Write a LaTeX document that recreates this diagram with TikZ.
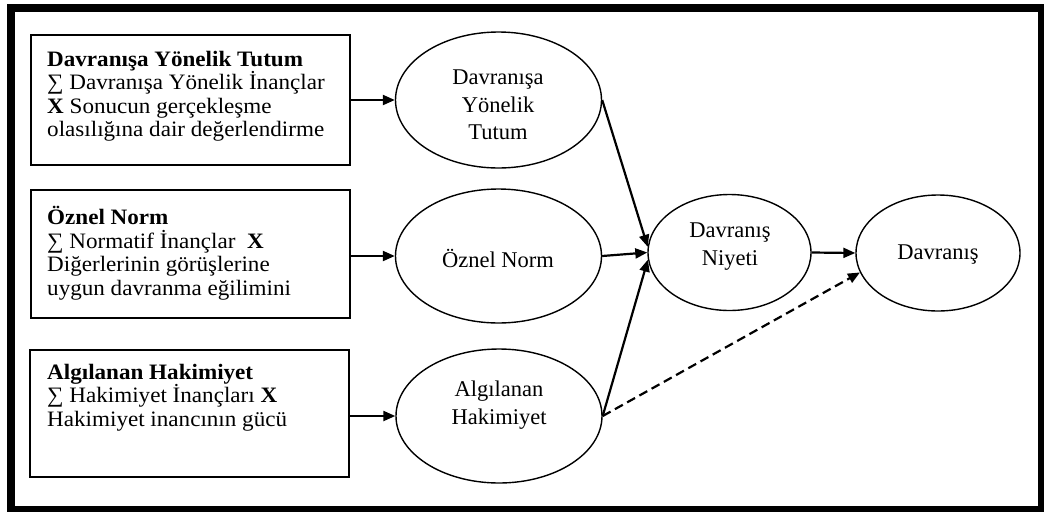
\documentclass[tikz,border=0pt]{standalone}
\usepackage{fontspec}
\setmainfont{Liberation Serif}
\newfontfamily\boxfont[FakeStretch=1.05]{Liberation Serif}
\usetikzlibrary{shapes.geometric,arrows.meta}

\begin{document}
\begin{tikzpicture}[x=1pt,y=-1pt,
  framebox/.style={draw, line width=1.5pt, rectangle, inner sep=0pt},
  boxtext/.style={anchor=north west, inner sep=0pt, align=left,
    font=\boxfont\fontsize{22}{23.5}\selectfont},
  oval/.style={draw, line width=1.4pt, ellipse, inner sep=0pt},
  ovaltext/.style={inner sep=0pt, align=center,
    font=\fontsize{22.5}{27.5}\selectfont},
  arr/.style={line width=2.2pt, -{Triangle[length=12pt,width=10pt]}},
  dasharr/.style={arr, dash pattern=on 9pt off 5pt}]

\useasboundingbox (0,0) rectangle (1044,512);

% heavy outer frame
\fill[black] (7,4) rectangle (1044,512);
\fill[white] (15,12) rectangle (1038,506);

% left-hand boxes
\node[framebox, minimum width=319pt, minimum height=130pt] (b1) at (190.5,100) {};
\node[framebox, minimum width=319pt, minimum height=128pt] (b2) at (190.5,254) {};
\node[framebox, minimum width=319pt, minimum height=127pt] (b3) at (189.5,413.5) {};

\node[boxtext] (b1t) at (47,51) {\textbf{Davranışa Yönelik Tutum}\\
  ∑ Davranışa Yönelik İnançlar\\
  \textbf{X} Sonucun gerçekleşme\\
  olasılığına dair değerlendirme};
\node[boxtext] (b2t) at (47,206) {\textbf{Öznel Norm}\\
  ∑ Normatif İnançlar \ \textbf{X}\\
  Diğerlerinin görüşlerine\\
  uygun davranma eğilimini};
\node[boxtext] (b3t) at (47,364) {\textbf{Algılanan Hakimiyet}\\
  ∑ Hakimiyet İnançları \textbf{X}\\
  Hakimiyet inancının gücü};

% ellipses
\node[oval, minimum width=206pt, minimum height=136pt] (e1) at (498.5,100) {};
\node[oval, minimum width=206pt, minimum height=134pt] (e2) at (498.5,256) {};
\node[oval, minimum width=206pt, minimum height=134pt] (e3) at (499,416) {};
\node[oval, minimum width=163pt, minimum height=116pt] (e4) at (729.5,252.5) {};
\node[oval, minimum width=164pt, minimum height=116pt] (e5) at (938,253) {};

\node[ovaltext] (e1t) at (498,105) {Davranışa\\Yönelik\\Tutum};
\node[ovaltext] (e2t) at (498,258) {Öznel Norm};
\node[ovaltext] (e3t) at (499,405) {Algılanan\\Hakimiyet};
\node[ovaltext, font=\fontsize{22.5}{28}\selectfont] (e4t) at (730,247) {Davranış\\Niyeti};
\node[ovaltext] (e5t) at (938,255) {Davranış};

% connectors
\draw[arr] (b1.east) -- (e1.west);
\draw[arr] (b2.east |- e2.west) -- (e2.west);
\draw[arr] (b3.east |- e3.west) -- (e3.west);
\draw[arr] (e1.east) -- (e4.176);
\draw[arr] (e2.east) -- (e4.west);
\draw[arr] (e3.east) -- (e4.185);
\draw[arr] (e4.east) -- (e5.west);
\draw[dasharr] (e3.east) -- (e5.194);

\end{tikzpicture}
\end{document}
